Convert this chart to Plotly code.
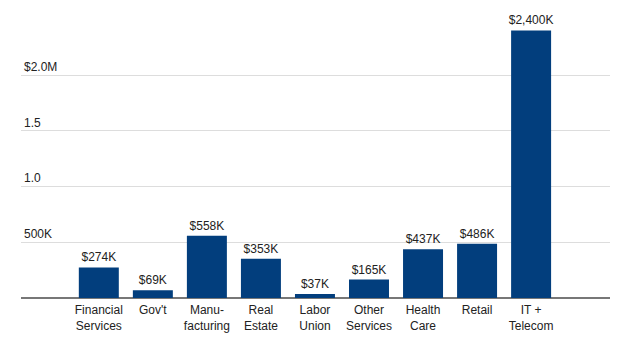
import plotly.graph_objects as go

categories = ["Financial<br>Services", "Gov't", "Manu-<br>facturing", "Real<br>Estate",
              "Labor<br>Union", "Other<br>Services", "Health<br>Care", "Retail", "IT +<br>Telecom"]
values = [274000, 69000, 558000, 353000, 37000, 165000, 437000, 486000, 2400000]
value_labels = ["$274K", "$69K", "$558K", "$353K", "$37K", "$165K", "$437K", "$486K", "$2,400K"]
y_tickvals = [500000, 1000000, 1500000, 2000000]
y_ticktext = ["500K", "1.0", "1.5", "$2.0M"]

fig = go.Figure(go.Bar(
    x=categories, y=values, text=value_labels, textposition="outside",
    constraintext="none",
    textfont=dict(size=12, color="#222"), cliponaxis=False,
    marker=dict(color="#023e7d", line=dict(width=0)),
))

fig.update_layout(
    width=620, height=344,
    margin=dict(l=21, r=10, t=0, b=46),
    paper_bgcolor="white", plot_bgcolor="white",
    font=dict(family="Liberation Sans, Arial, sans-serif", size=12, color="#222"),
    bargap=0.26, showlegend=False,
)
fig.update_xaxes(range=[-1.44, 9.46], showgrid=False, showline=False, ticks="",
                 ticklabelstandoff=3,
                 tickfont=dict(size=12, color="#222"))
fig.update_yaxes(range=[0, 2673000], tickvals=y_tickvals, ticktext=y_ticktext,
                 ticklabelposition="inside top", showgrid=True, gridcolor="#dddddd", gridwidth=1,
                 zeroline=True, zerolinecolor="#777777", zerolinewidth=2, showline=False, ticks="",
                 tickfont=dict(size=12, color="#222"))

fig.write_html("out.html")
